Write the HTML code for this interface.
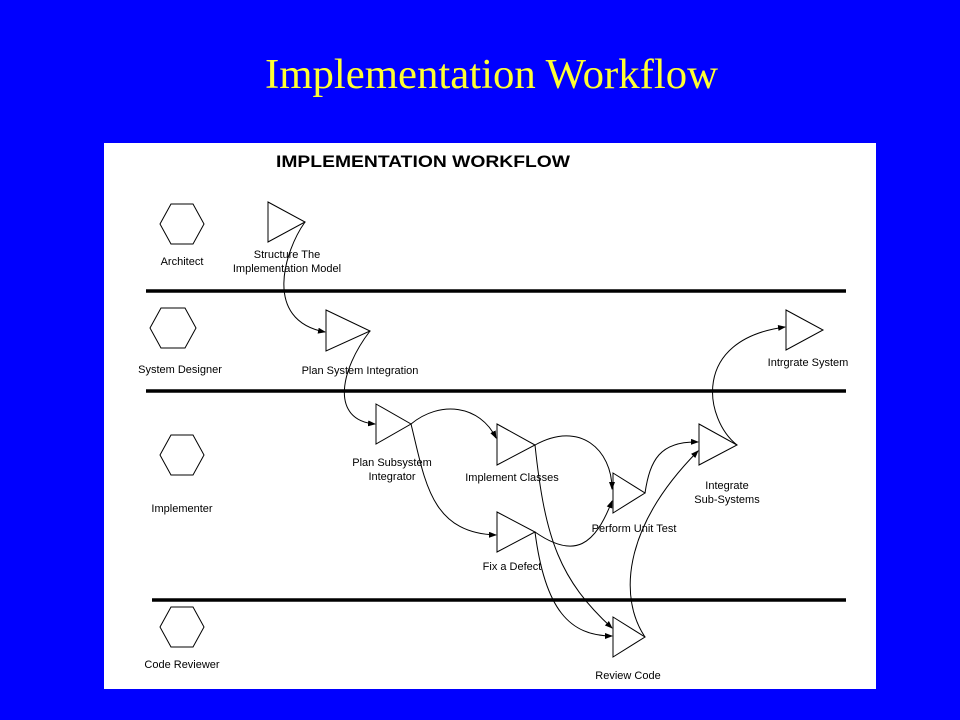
<!DOCTYPE html>
<html><head><style>
html,body{margin:0;padding:0;background:#0000ff;}
svg{display:block}
</style></head><body>
<svg width="960" height="720" xmlns="http://www.w3.org/2000/svg">
<defs>
<marker id="a" markerWidth="8" markerHeight="6" refX="7" refY="3" orient="auto" markerUnits="userSpaceOnUse">
<path d="M0,0 L8,3 L0,6 z" fill="#000"/>
</marker>
</defs>
<rect width="960" height="720" fill="#0000ff"/>
<text x="265" y="88" font-family="Liberation Serif" font-size="42" fill="#ffff33" textLength="453" lengthAdjust="spacingAndGlyphs">Implementation Workflow</text>
<rect x="104" y="143" width="772" height="546" fill="#fff"/>
<text x="276" y="167" font-family="Liberation Sans" font-weight="bold" font-size="17" fill="#000" textLength="294" lengthAdjust="spacingAndGlyphs">IMPLEMENTATION WORKFLOW</text>
<g stroke="#000" stroke-width="3.5">
<line x1="146" y1="291" x2="846" y2="291"/>
<line x1="146" y1="391" x2="846" y2="391"/>
<line x1="152" y1="600" x2="846" y2="600"/>
</g>
<g fill="none" stroke="#000" stroke-width="1">
<polygon points="160,224 171,204 193,204 204,224 193,244 171,244"/>
<polygon points="150,328 161,308 185,308 196,328 185,348 161,348"/>
<polygon points="160,455 171,435 193,435 204,455 193,475 171,475"/>
<polygon points="160,627 171,607 193,607 204,627 193,647 171,647"/>
<polygon points="268,202 305,222 268,242"/>
<polygon points="326,310 370,331 326,351"/>
<polygon points="376,404 411,424 376,444"/>
<polygon points="497,424 535,445 497,465"/>
<polygon points="613,473 645,493 613,513"/>
<polygon points="497,512 535,532 497,552"/>
<polygon points="699,424 737,445 699,465"/>
<polygon points="786,310 823,330 786,350"/>
<polygon points="613,617 645,637 613,657"/>
</g>
<g fill="none" stroke="#000" stroke-width="1" marker-end="url(#a)">
<path d="M305,222 C285,250 262,320 325,332"/>
<path d="M370,331 C340,370 330,420 375,424"/>
<path d="M411,424 C440,400 480,405 496,438"/>
<path d="M411,424 C425,480 430,533 496,535"/>
<path d="M535,445 C580,420 612,450 612,489"/>
<path d="M535,445 C545,540 560,580 612,628"/>
<path d="M535,532 C545,610 570,636 612,636"/>
<path d="M535,532 C575,560 595,545 612,501"/>
<path d="M645,493 C650,460 660,441 698,442"/>
<path d="M645,637 C620,600 620,530 698,451"/>
<path d="M737,445 C705,420 690,340 785,327"/>
</g>
<g font-family="Liberation Sans" font-size="11" fill="#000" text-anchor="middle">
<text x="182" y="265">Architect</text>
<text x="180" y="373">System Designer</text>
<text x="182" y="512">Implementer</text>
<text x="182" y="668">Code Reviewer</text>
<text x="287" y="258">Structure The</text>
<text x="287" y="272">Implementation Model</text>
<text x="360" y="374">Plan System Integration</text>
<text x="392" y="466">Plan Subsystem</text>
<text x="392" y="480">Integrator</text>
<text x="512" y="481">Implement Classes</text>
<text x="512" y="570">Fix a Defect</text>
<text x="634" y="532">Perform Unit Test</text>
<text x="727" y="489">Integrate</text>
<text x="727" y="503">Sub-Systems</text>
<text x="808" y="366">Intrgrate System</text>
<text x="628" y="679">Review Code</text>
</g>
</svg>
</body></html>
